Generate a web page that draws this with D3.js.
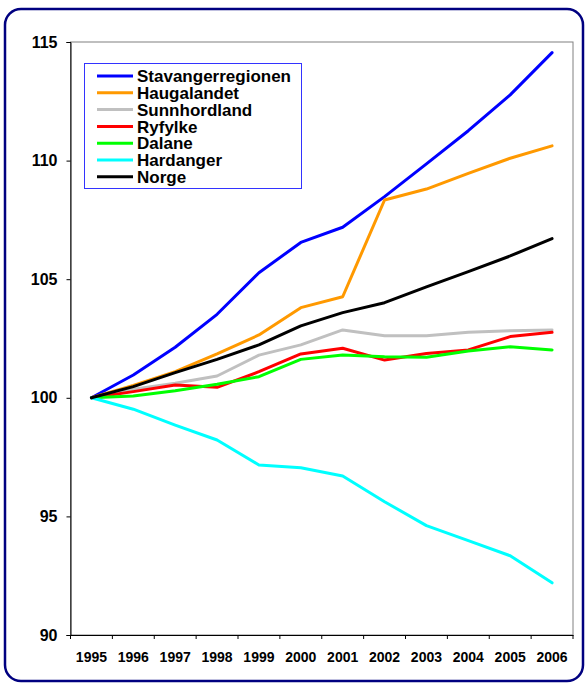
<!DOCTYPE html>
<html>
<head>
<meta charset="utf-8">
<script src="https://cdn.jsdelivr.net/npm/d3@7/dist/d3.min.js"></script>
<style>
  html, body { margin: 0; padding: 0; background: #fff; }
  svg { display: block; font-family: "Liberation Sans", Arial, sans-serif; }
</style>
</head>
<body>
<svg id="chart" width="587" height="684"></svg>
<script>
const years = ["1995","1996","1997","1998","1999","2000","2001","2002","2003","2004","2005","2006"];
const yTicks = [90, 95, 100, 105, 110, 115];

const seriesNames = ["Stavangerregionen","Haugalandet","Sunnhordland","Ryfylke","Dalane","Hardanger","Norge"];
const seriesColors = ["#0000FF","#FF9900","#C0C0C0","#FF0000","#00FF00","#00FFFF","#000000"];

const stavangerregionen = [100, 100.96, 102.13, 103.52, 105.27, 106.55, 107.19, 108.48, 109.86, 111.26, 112.77, 114.55];
const haugalandet       = [100, 100.52, 101.10, 101.85, 102.65, 103.80, 104.26, 108.34, 108.80, 109.46, 110.10, 110.62];
const sunnhordland      = [100, 100.36, 100.61, 100.92, 101.80, 102.23, 102.86, 102.62, 102.62, 102.76, 102.83, 102.86];
const ryfylke           = [100, 100.26, 100.54, 100.44, 101.10, 101.85, 102.09, 101.59, 101.87, 102.02, 102.58, 102.76];
const dalane            = [100, 100.08, 100.30, 100.57, 100.89, 101.62, 101.80, 101.73, 101.71, 101.97, 102.15, 102.02];
const hardanger         = [100, 99.52, 98.85, 98.22, 97.17, 97.05, 96.70, 95.62, 94.61, 93.98, 93.34, 92.20];
const norge             = [100, 100.47, 101.06, 101.62, 102.23, 103.03, 103.59, 104.01, 104.68, 105.32, 105.98, 106.71];

const seriesValues = [stavangerregionen, haugalandet, sunnhordland, ryfylke, dalane, hardanger, norge];

const svg = d3.select("#chart");

// outer rounded frame
svg.append("rect")
  .attr("x", 5).attr("y", 9).attr("width", 578).attr("height", 672)
  .attr("rx", 16).attr("ry", 16)
  .attr("fill", "#fff").attr("stroke", "#000080").attr("stroke-width", 2.5);

const plot = { left: 70.5, right: 573, top: 42, bottom: 635 };

const x = d3.scaleBand().domain(years).range([plot.left, plot.right]).padding(0);
const y = d3.scaleLinear().domain([90, 115]).range([plot.bottom, plot.top]);

// plot area border (gray top/right)
svg.append("rect")
  .attr("x", plot.left).attr("y", plot.top)
  .attr("width", plot.right - plot.left).attr("height", plot.bottom - plot.top)
  .attr("fill", "none").attr("stroke", "#808080").attr("stroke-width", 1);

// y axis
const yAxis = svg.append("g")
  .attr("transform", `translate(${plot.left},0)`)
  .call(d3.axisLeft(y).tickValues(yTicks).tickSize(4).tickPadding(9).tickFormat(d3.format("d")));
yAxis.select(".domain").attr("stroke", "#000").attr("stroke-width", 1);
yAxis.selectAll(".tick line").attr("stroke", "#000");
yAxis.selectAll(".tick text")
  .attr("font-size", 16).attr("font-weight", "bold").attr("fill", "#000")
  .attr("font-family", "Liberation Sans, Arial, sans-serif");

// x axis (labels at band centres)
const xAxis = svg.append("g")
  .attr("transform", `translate(0,${plot.bottom})`)
  .call(d3.axisBottom(x).tickSize(0).tickPadding(17).tickSizeOuter(0));
xAxis.select(".domain").attr("stroke", "#000").attr("stroke-width", 1);
xAxis.selectAll(".tick text")
  .attr("font-size", 14).attr("font-weight", "bold").attr("fill", "#000")
  .attr("font-family", "Liberation Sans, Arial, sans-serif");

// category boundary ticks
const boundaries = years.map(yr => x(yr)).concat([x(years[years.length - 1]) + x.bandwidth()]);
xAxis.selectAll(".bt").data(boundaries).enter().append("line")
  .attr("class", "bt")
  .attr("x1", d => d).attr("x2", d => d)
  .attr("y1", 0).attr("y2", 4)
  .attr("stroke", "#000").attr("stroke-width", 1);

// lines
const line = d3.line()
  .x((d, i) => x(years[i]) + x.bandwidth() / 2)
  .y(d => y(d));

seriesValues.forEach((vals, i) => {
  svg.append("path")
    .datum(vals)
    .attr("d", line)
    .attr("fill", "none")
    .attr("stroke", seriesColors[i])
    .attr("stroke-width", 3)
    .attr("stroke-linejoin", "round")
    .attr("stroke-linecap", "round");
});

// legend
const legend = svg.append("g");
legend.append("rect")
  .attr("x", 84.5).attr("y", 63.5).attr("width", 217).attr("height", 125)
  .attr("fill", "#fff").attr("stroke", "#3333FF").attr("stroke-width", 1);

seriesNames.forEach((name, i) => {
  const cy = 76 + i * 16.8;
  legend.append("line")
    .attr("x1", 97).attr("x2", 133).attr("y1", cy).attr("y2", cy)
    .attr("stroke", seriesColors[i]).attr("stroke-width", 3);
  legend.append("text")
    .attr("x", 137).attr("y", cy).attr("dy", "0.36em")
    .attr("font-size", 17).attr("font-weight", "bold").attr("fill", "#000")
    .text(name);
});
</script>
</body>
</html>
